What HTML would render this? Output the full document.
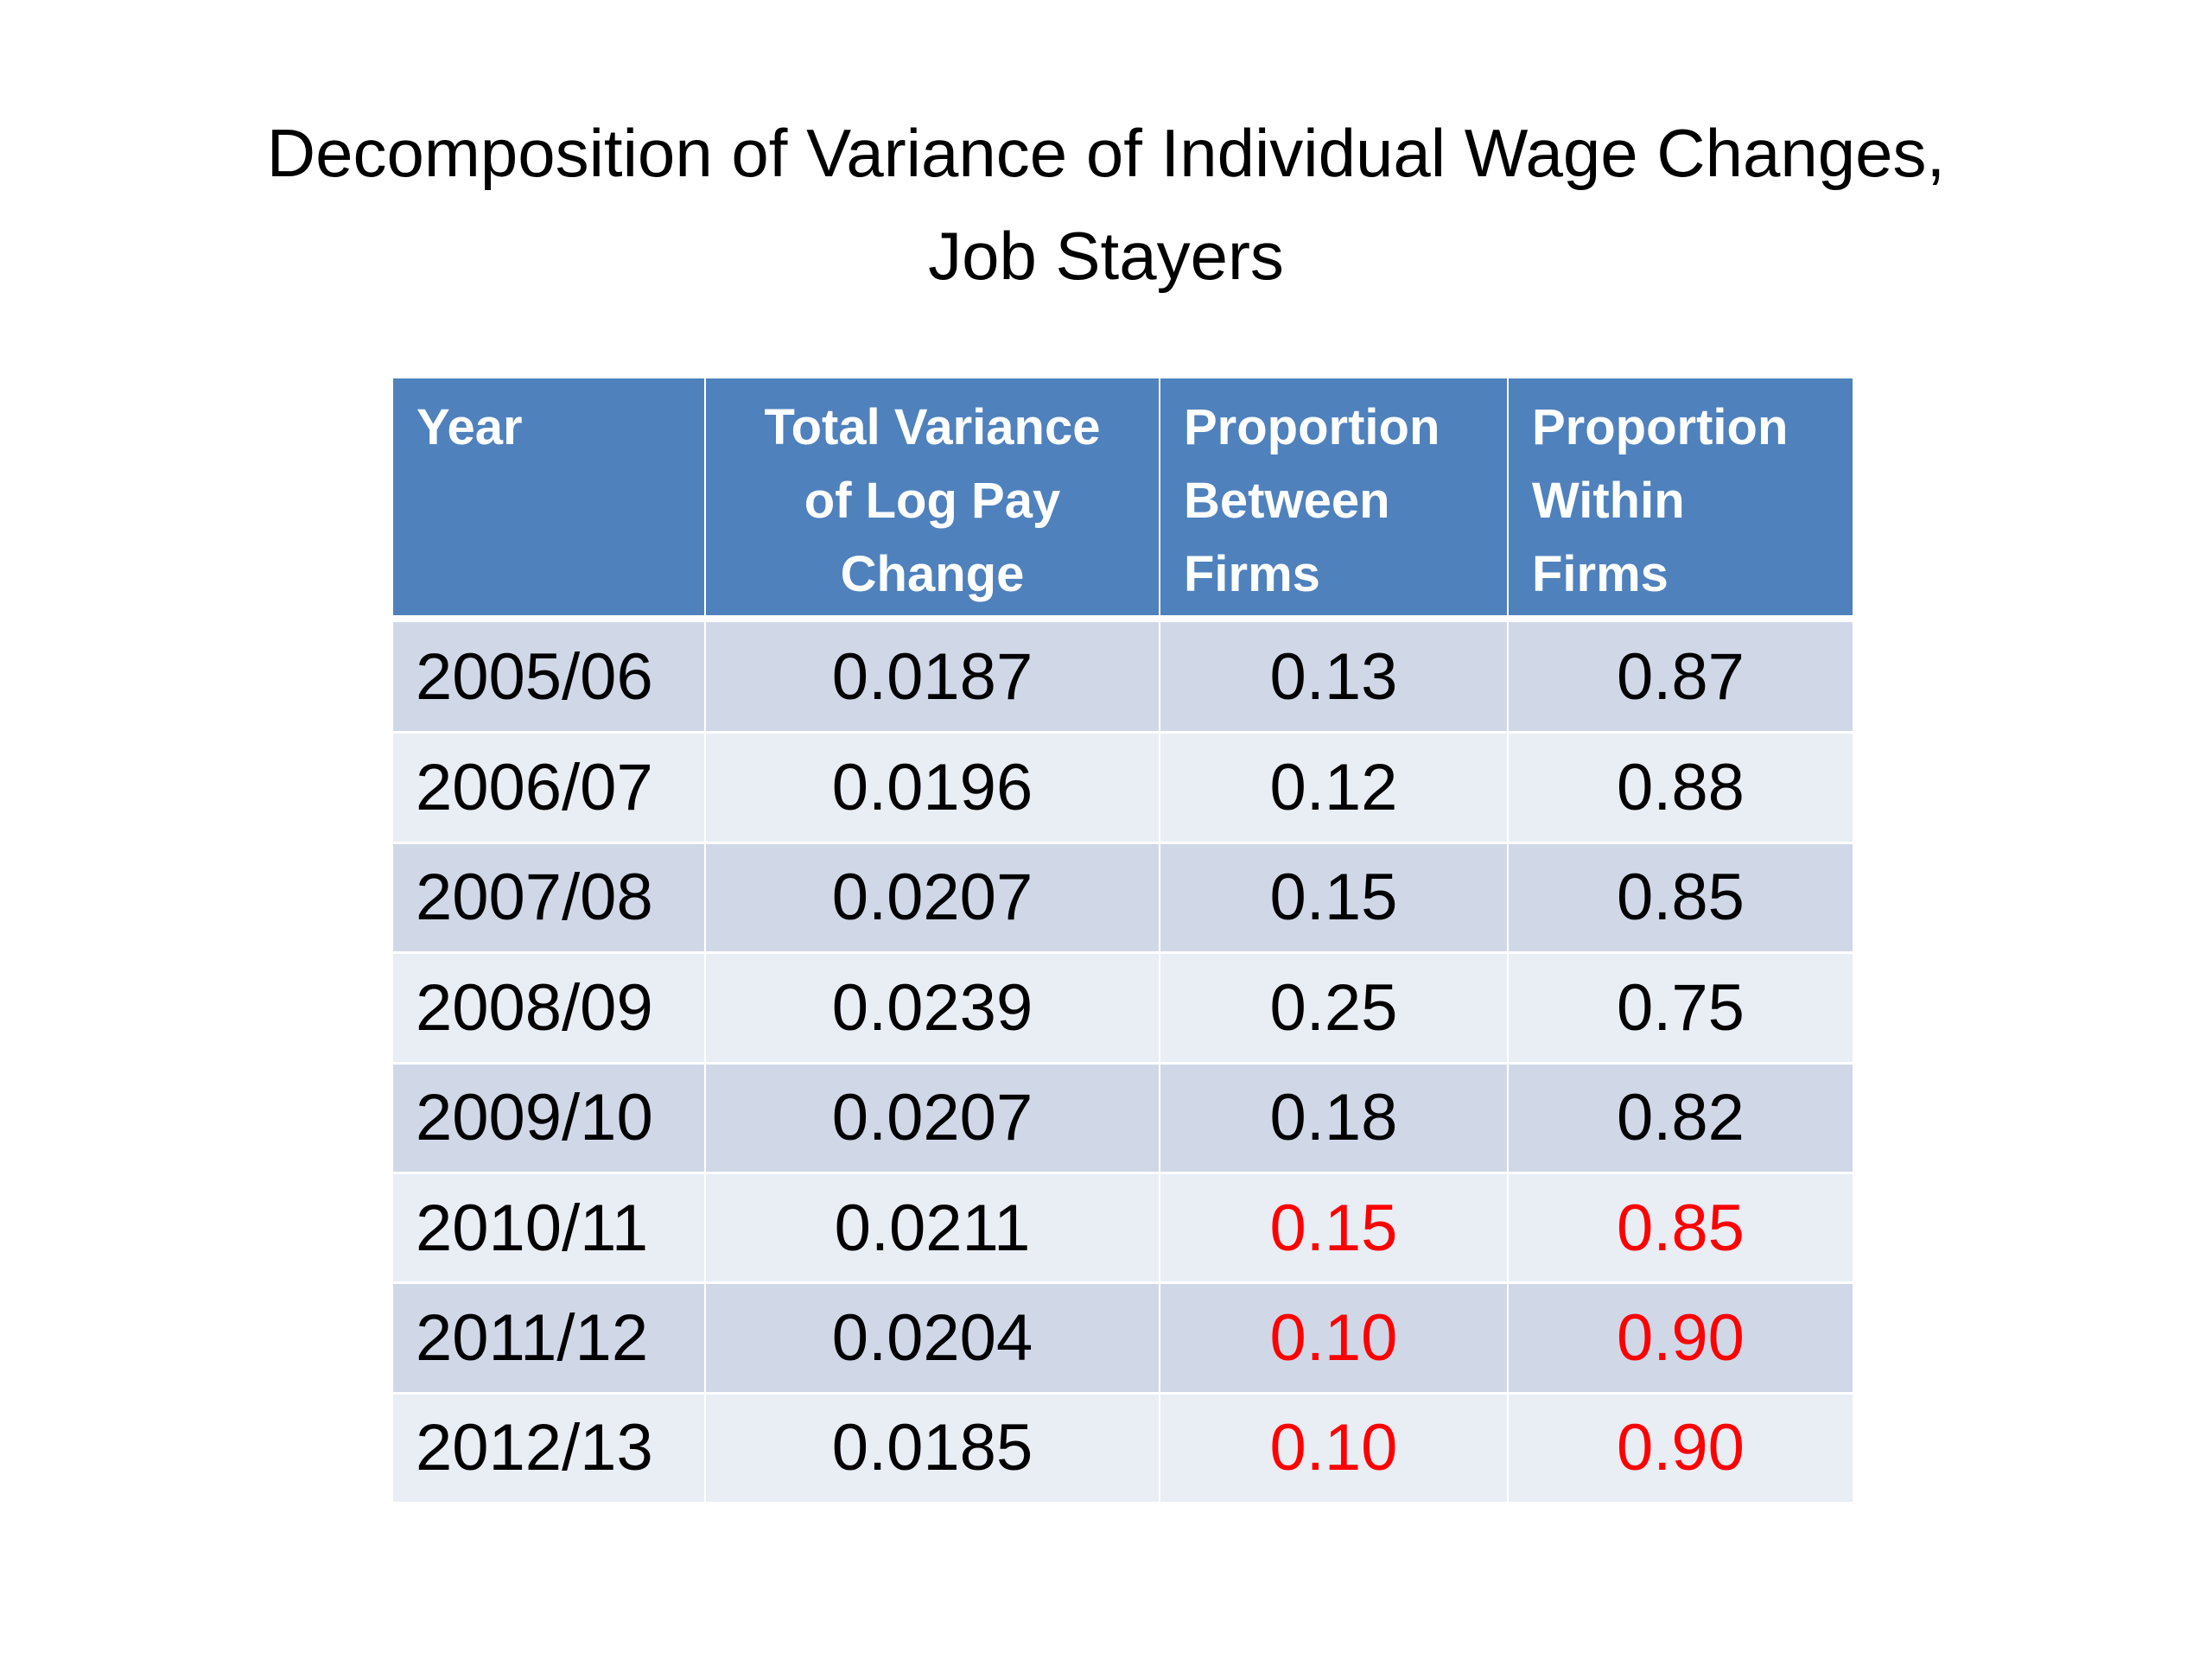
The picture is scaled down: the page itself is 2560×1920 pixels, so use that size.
<!DOCTYPE html>
<html><head><meta charset="utf-8"><style>
body{margin:0;width:2560px;height:1920px;background:#fff;position:relative;overflow:hidden;font-family:"Liberation Sans",sans-serif}
.title{position:absolute;left:0;width:2560px;top:118px;text-align:center;font-size:78px;line-height:119px;color:#000}
.c{position:absolute;box-sizing:border-box}
.h{background:#4F81BD;color:#fff;font-weight:bold;font-size:58px;line-height:85px;padding-top:14px}
.t{font-size:76px;color:#000;display:flex;align-items:center}
</style></head><body>
<div class="title">Decomposition of Variance of Individual Wage Changes,<br>Job Stayers</div>
<div id="tbl"></div>
<script>
const years=["2005/06","2006/07","2007/08","2008/09","2009/10","2010/11","2011/12","2012/13"];
const totalVar=["0.0187","0.0196","0.0207","0.0239","0.0207","0.0211","0.0204","0.0185"];
const between=["0.13","0.12","0.15","0.25","0.18","0.15","0.10","0.10"];
const within=["0.87","0.88","0.85","0.75","0.82","0.85","0.90","0.90"];
const redRows=[false,false,false,false,false,true,true,true];
const headers=["Year","Total Variance<br>of Log Pay<br>Change","Proportion<br>Between<br>Firms","Proportion<br>Within<br>Firms"];
const colX=[455,815,1341,1744,2144];
const hTop=438,hBot=712,bTop=720,rowH=127.4;
const tbl=document.getElementById('tbl');
headers.forEach((h,i)=>{
 const d=document.createElement('div');
 
 
 d.className='c h';
 d.style.left=(colX[i]+(i?2:0))+'px';d.style.top=hTop+'px';
 d.style.width=(colX[i+1]-colX[i]-(i?2:0))+'px';d.style.height=(hBot-hTop)+'px';
 d.style.textAlign=i==1?'center':'left';d.style.paddingLeft=i==1?'0':'27px';
 d.innerHTML=h;tbl.appendChild(d);
});
years.forEach((y,r)=>{
 const vals=[y,totalVar[r],between[r],within[r]];
 vals.forEach((v,i)=>{
  const d=document.createElement('div');
  
  
  d.className='c t';
  const top=bTop+r*rowH+(r?2:0);
  d.style.left=(colX[i]+(i?2:0))+'px';d.style.top=top+'px';
  d.style.width=(colX[i+1]-colX[i]-(i?2:0))+'px';
  d.style.height=(bTop+(r+1)*rowH-top-1)+'px';
  d.style.background=r%2?'#E9EDF4':'#D0D8E8';
  d.style.justifyContent=i==0?'flex-start':'center';
  if(i==0)d.style.paddingLeft='26px';
  if(i>=2&&redRows[r])d.style.color='#FF0000';
  d.textContent=v;tbl.appendChild(d);
 });
});
</script>
</body></html>
